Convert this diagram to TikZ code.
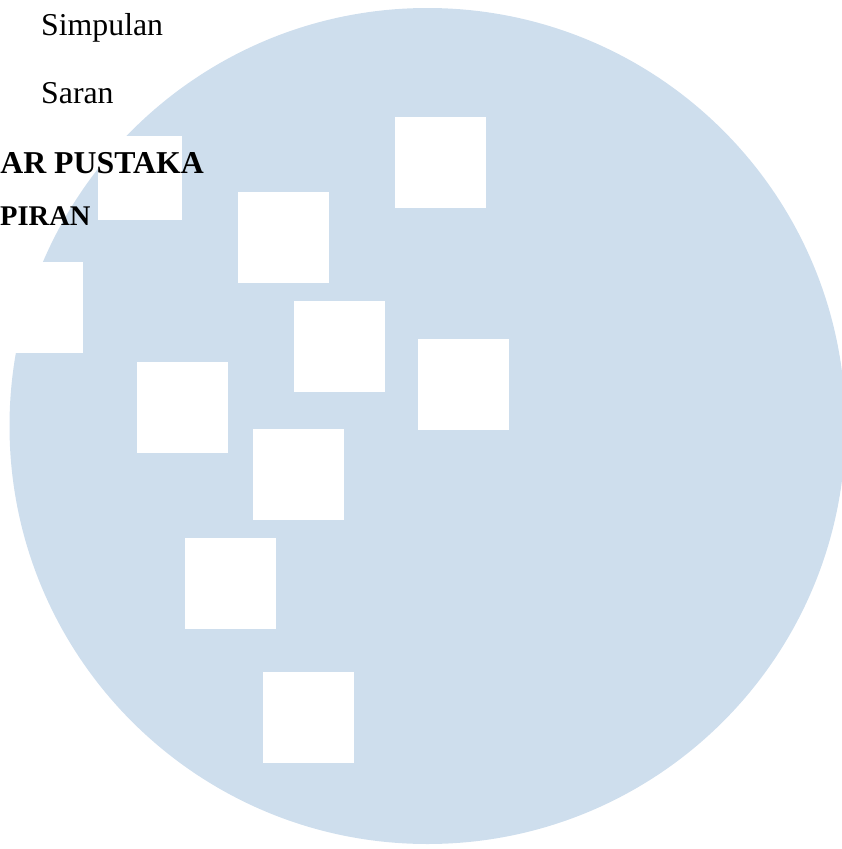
\documentclass[tikz,border=0pt]{standalone}
\usepackage{fontspec}
\setmainfont{Liberation Serif}
\definecolor{circleblue}{RGB}{206,222,237}
\begin{document}
\begin{tikzpicture}[x=1pt,y=-1pt,
    tile/.style={fill=white,inner sep=0pt,minimum size=91pt},
    line/.style={inner sep=0pt,font=\fontsize{31.8}{38}\selectfont}]

      \useasboundingbox (0,0) rectangle (842,849);
      \clip (0,0) rectangle (842,849);

      \fill[circleblue] (427.5,426) circle (418);

      \begin{scope}[every node/.style={tile}]
        \node[minimum size=84pt] (s1) at (140,178) {};
        \node (s2)  at (283.5,237.5) {};
        \node (s3)  at (440.5,162.5) {};
        \node (s4)  at (37.5,307.5)  {};
        \node (s5)  at (339.5,346)   {};
        \node (s6)  at (463.5,384)   {};
        \node (s7)  at (182,407.5)   {};
        \node (s8)  at (298.5,474)   {};
        \node (s9)  at (230.5,583.5) {};
        \node (s10) at (308.5,717.5) {};
      \end{scope}

      \begin{scope}[every node/.style={line}]
        \node[anchor=base west] (simpulan) at (41,35)  {Simpulan};
        \node[anchor=base west] (saran)    at (41,103) {Saran};
        \node[anchor=base east,font=\fontsize{31.8}{38}\selectfont\bfseries] (pustaka) at (204,173) {AR PUSTAKA};
        \node[anchor=base west,font=\fontsize{28.5}{34}\selectfont\bfseries] (piran)   at (0,225)  {PIRAN};
      \end{scope}

    \end{tikzpicture}
\end{document}
